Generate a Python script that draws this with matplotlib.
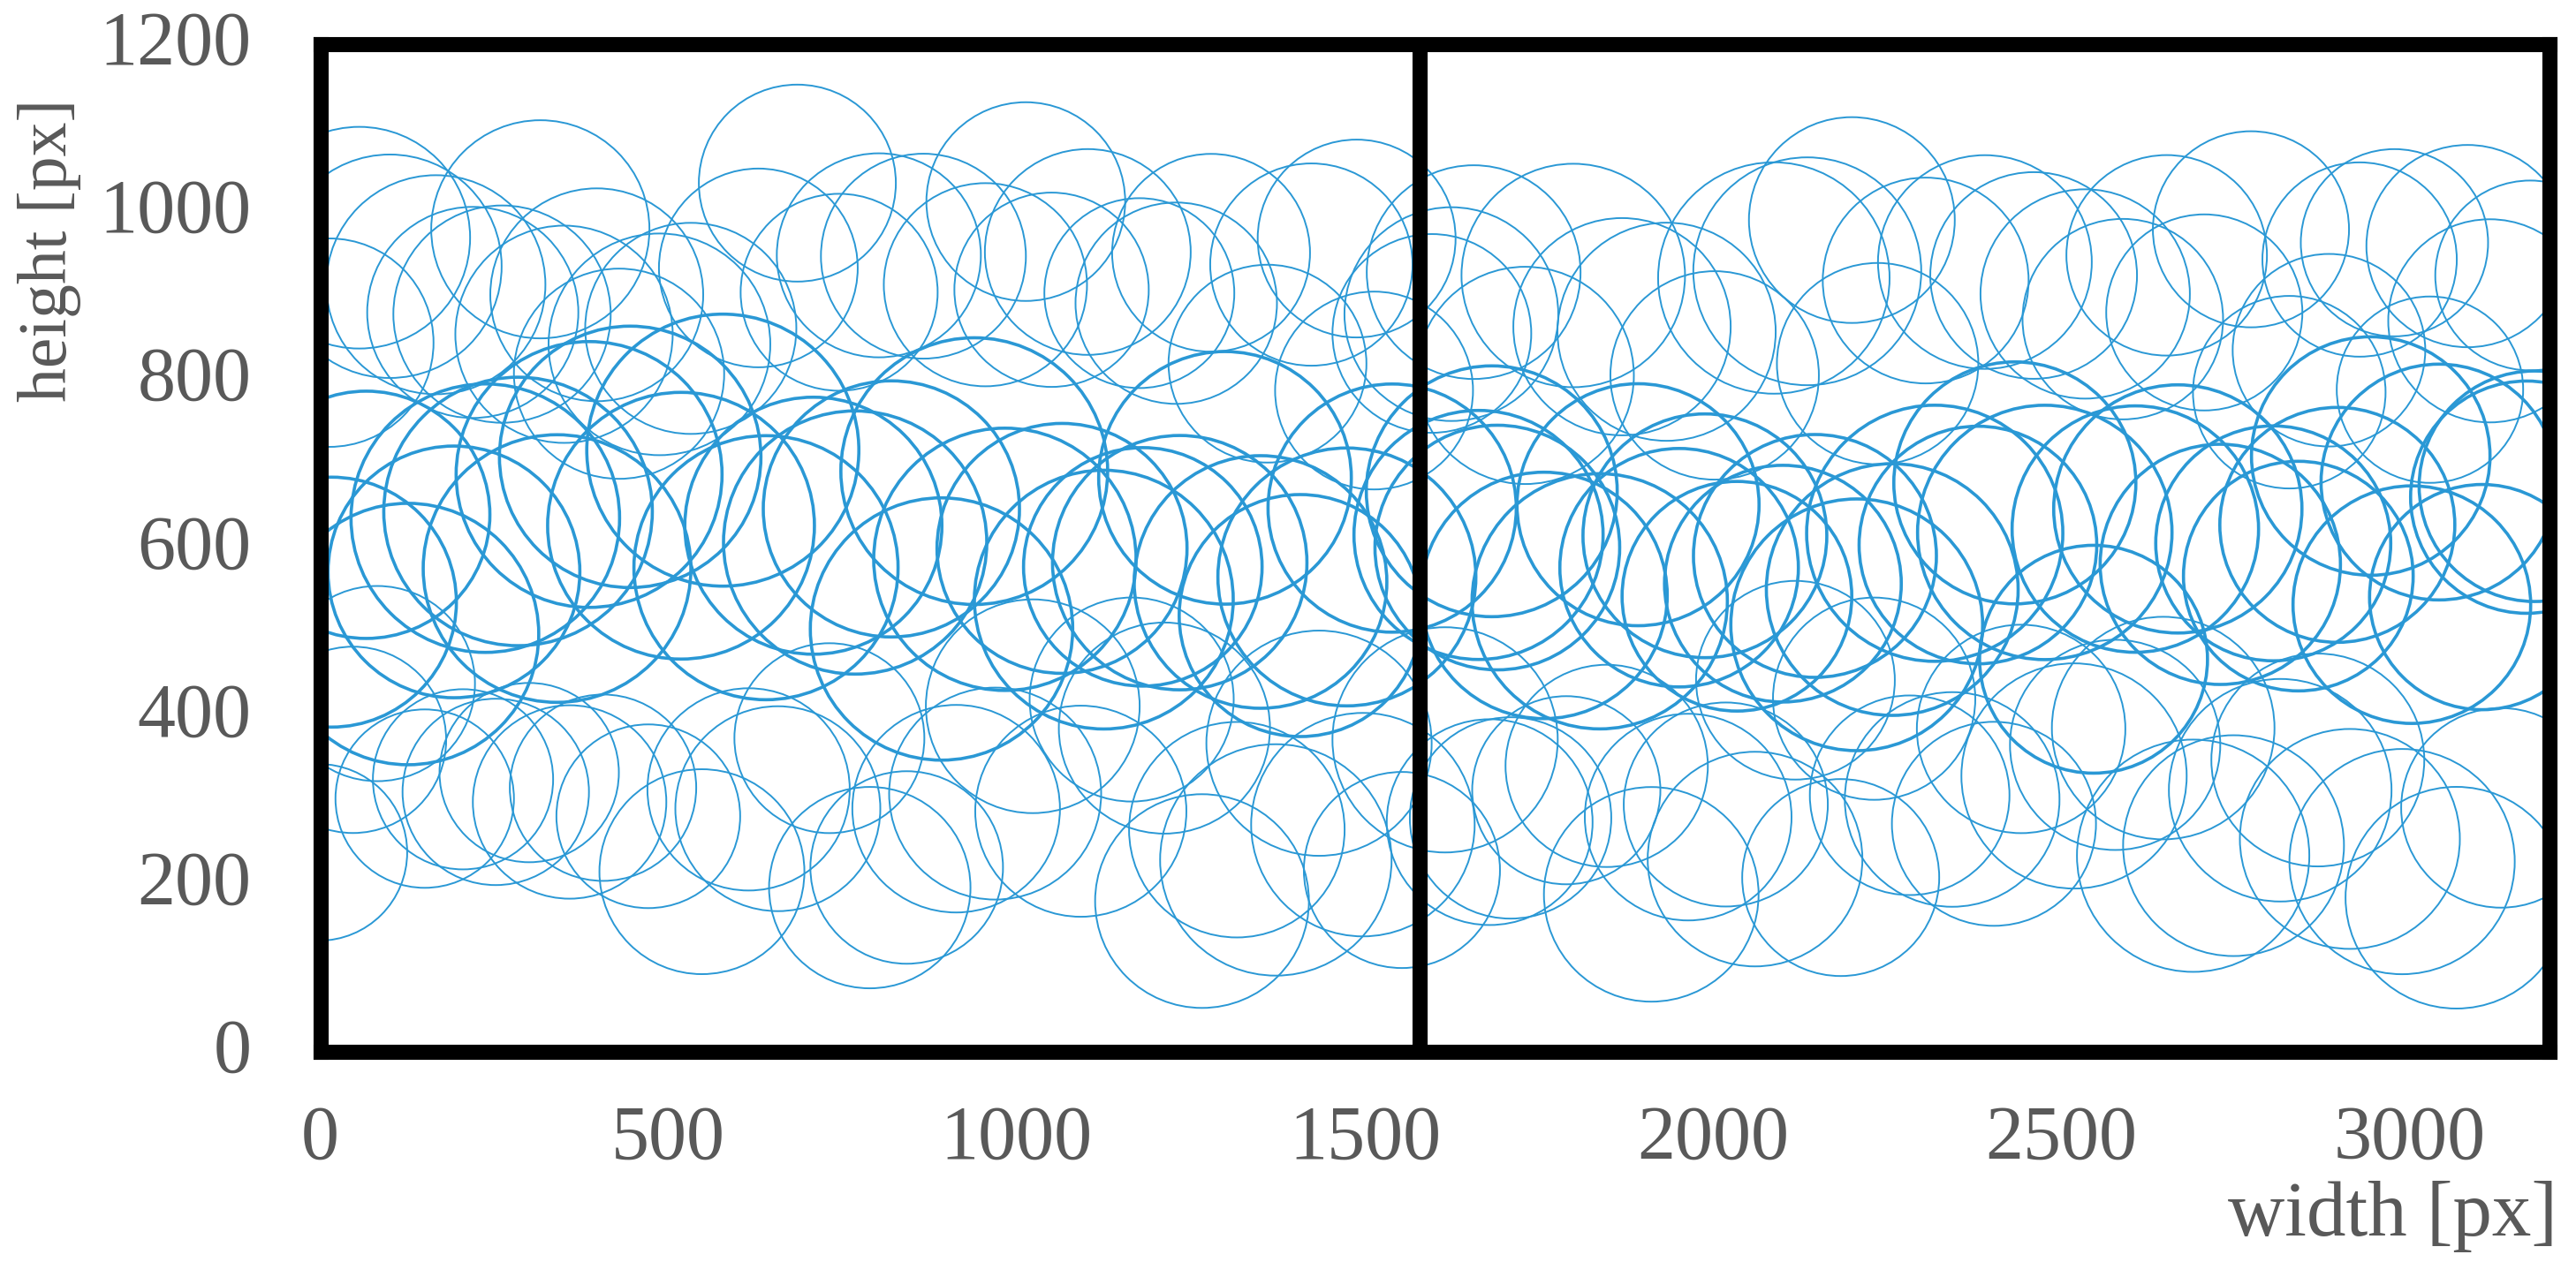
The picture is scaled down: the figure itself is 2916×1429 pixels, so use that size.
import matplotlib
matplotlib.use("Agg")
import matplotlib.pyplot as plt
from matplotlib.transforms import ScaledTranslation

# circles: centre in chart units, diameter in image pixels
upper_x = [56,100,316,166,13,219,261,397,350,429,532,487,685,629,745,802,866,1013,955,1050,1102,1176,1229,1279,1360,1488,1423,1513,1596,
           1656,1799,1624,2199,2087,2135,1869,1933,1730,2002,2305,2390,2460,2534,2236,2651,2588,2705,2772,2928,2978,3083,3173,3115,2884,2827,3029]
upper_y = [969,935,979,913,844,880,878,901,854,807,861,842,1034,933,904,948,947,1012,913,907,952,903,891,951,819,968,937,787,855,
           928,924,878,990,921,929,863,857,805,805,918,940,924,902,819,948,872,880,979,943,963,959,924,870,835,785,788]
upper_d = [251,253,247,248,236,239,246,241,246,238,239,251,223,225,223,231,232,225,230,220,233,215,228,224,224,224,229,224,225,
           242,253,242,233,262,258,246,247,246,236,233,242,234,237,228,227,227,222,222,220,212,229,215,230,218,218,211]

middle_x = [66,578,445,386,284,237,518,939,820,708,768,1299,1065,983,1234,1181,1350,1474,1539,340,192,640,16,126,892,1125,1407,
            1682,1892,1663,1988,2146,1690,1951,2100,1757,1837,2034,2206,2433,2318,2476,2606,2380,2257,2667,2944,3042,2896,2804,2728,2840,2546,3003,3104,3179,3168]
middle_y = [639,716,708,687,643,635,626,691,646,626,606,683,599,586,582,577,559,565,647,575,571,576,535,497,503,538,519,
            667,651,615,614,590,600,576,557,543,536,542,508,677,617,618,622,603,550,646,709,678,627,605,580,566,467,532,541,673,660]
middle_d = [280,308,296,301,304,304,302,302,290,291,298,286,283,297,288,270,286,292,281,303,285,299,283,296,297,293,274,
            284,274,282,276,275,277,270,268,279,289,260,285,274,290,288,279,269,285,281,270,267,266,266,272,260,258,269,255,261,263]

lower_x = [82,47,205,300,252,150,358,406,471,615,657,731,548,842,789,913,969,1023,1165,1212,1092,1434,1316,1497,1372,1553,1266,-2,
           2118,2231,1615,2442,2646,2577,2518,1847,2868,2814,1789,2018,2282,2343,1964,1679,1709,2403,2060,2183,1911,2747,2689,2914,2989,3067,3131]
lower_y = [438,371,324,332,309,301,297,314,280,312,289,373,214,219,195,289,307,411,419,385,286,367,264,270,228,216,179,237,
           442,420,371,384,385,365,328,340,347,311,311,294,305,300,279,273,278,271,229,207,187,245,233,253,226,183,290]
lower_d = [221,211,204,203,211,202,219,211,208,229,232,215,232,218,228,235,240,242,231,239,239,255,244,253,262,222,242,200,
           225,229,255,236,252,238,255,229,241,252,213,231,226,243,234,233,228,231,243,223,243,250,263,249,255,251,226]

divider_x = 1578
x_ticks = [0,500,1000,1500,2000,2500,3000]
y_ticks = [0,200,400,600,800,1000,1200]
x_label = "width [px]"
y_label = "height [px]"

W, H, DPI = 2916, 1429, 100
TEXT = "#595959"
BLUE = "#2a98d5"
plt.rcParams["font.family"] = ["Liberation Serif", "DejaVu Serif"]

fig = plt.figure(figsize=(W/DPI, H/DPI), dpi=DPI, facecolor="white")
ax = fig.add_axes([362.5/W, 1-1190.5/H, (2885.5-362.5)/W, (1190.5-49.5)/H])
ax.set_xlim(0, 3200)
ax.set_ylim(0, 1200)

def circles(x, y, d, lw):
    s = [(v*72/DPI)**2 for v in d]
    ax.scatter(x, y, s=s, facecolors="none", edgecolors=BLUE, linewidths=lw, zorder=2)

circles(upper_x, upper_y, upper_d, 1.4)
circles(lower_x, lower_y, lower_d, 1.4)
circles(middle_x, middle_y, middle_d, 2.6)

ax.axvline(divider_x, color="black", lw=12.3, zorder=3)
for s in ax.spines.values():
    s.set_linewidth(12.3)
    s.set_color("black")
    s.set_zorder(4)
ax.set_xticks(x_ticks)
ax.set_yticks(y_ticks)
ax.tick_params(axis="both", length=0, labelsize=62, labelcolor=TEXT)
ax.tick_params(axis="x", pad=44)
ax.tick_params(axis="y", pad=56)
up = ScaledTranslation(0, 5/72, fig.dpi_scale_trans)
for lab in ax.get_yticklabels():
    lab.set_transform(lab.get_transform() + up)
fig.text(2895/W, 1-1377/H, x_label, ha="right", va="center", fontsize=64, color=TEXT)
fig.text(56/W, 1-283/H, y_label, ha="center", va="center", rotation=90, fontsize=56, color=TEXT)
fig.savefig("out.png", dpi=DPI)
